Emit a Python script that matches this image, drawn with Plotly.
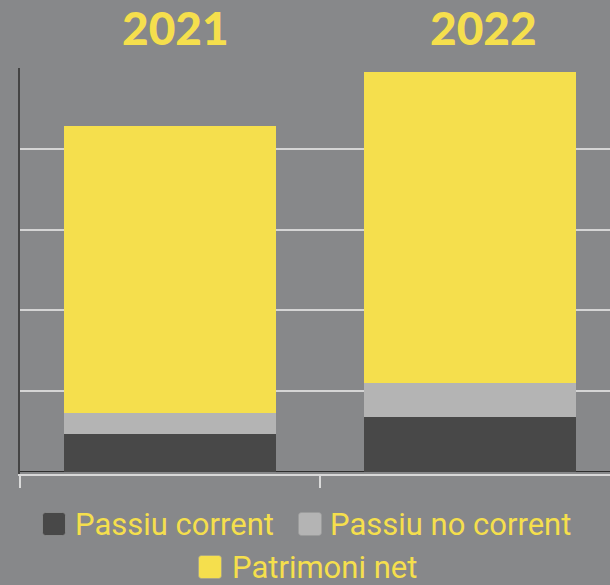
import plotly.graph_objects as go

years = ['2021', '2022']
x_pos = [0, 1]
passiu_corrent = [0.47, 0.68]
passiu_no_corrent = [0.26, 0.42]
patrimoni_net = [3.55, 3.85]

series_names = ['Passiu corrent', 'Passiu no corrent', 'Patrimoni net']
series_colors = ['#484848', '#b4b4b4', '#f5df4d']

bg = '#87888a'
yellow = '#f5df4d'

W, H = 610, 585
L, R, T, B = 20, 0, 68, 111
pw, ph = W - L - R, H - T - B


def px(xp):
    return (xp - L) / pw


def py(yp):
    return (H - B - yp) / ph


fig = go.Figure()
for name, vals, col in zip(series_names, [passiu_corrent, passiu_no_corrent, patrimoni_net], series_colors):
    fig.add_trace(go.Bar(x=x_pos, y=vals, name=name, marker=dict(color=col, line=dict(width=0)),
                         width=0.705, showlegend=False))

# year headings
year_centres = [175, 483.5]
for yr, xc in zip(years, year_centres):
    fig.add_annotation(text=yr, x=px(xc), y=py(27.5), xref='paper', yref='paper',
                       xanchor='center', yanchor='middle', showarrow=False,
                       font=dict(family='Lato', size=46, color=yellow, weight=900))

# hand-made legend (bigger swatches than plotly's own)
swatch_centres = [(54, 524), (310, 524), (210, 567)]
text_left = [73, 328, 230]
r = 3
h = 11.5
rounded = (f'M{-h + r},{-h} L{h - r},{-h} Q{h},{-h} {h},{-h + r} L{h},{h - r} Q{h},{h} {h - r},{h} '
           f'L{-h + r},{h} Q{-h},{h} {-h},{h - r} L{-h},{-h + r} Q{-h},{-h} {-h + r},{-h} Z')
for name, col, (sx, sy), tx in zip(series_names, series_colors, swatch_centres, text_left):
    fig.add_shape(type='path', path=rounded, xref='paper', yref='paper',
                  xsizemode='pixel', ysizemode='pixel', xanchor=px(sx), yanchor=py(sy),
                  fillcolor=col, line=dict(color='#9a9a9a', width=0.6))
    fig.add_annotation(text=name, x=px(tx), y=py(sy), xref='paper', yref='paper',
                       xanchor='left', yanchor='middle', showarrow=False,
                       font=dict(family='Roboto', size=31, color=yellow))

fig.update_layout(
    width=W, height=H,
    margin=dict(l=L, r=R, t=T, b=B),
    paper_bgcolor=bg, plot_bgcolor=bg,
    barmode='stack', bargap=0,
    xaxis=dict(range=[-0.5, 1.4667], tickvals=[-0.5, 0.5], showticklabels=False,
               ticks='outside', ticklen=12, tickwidth=2, tickcolor='#d9d9d9',
               showline=True, linecolor='#d9d9d9', linewidth=2, showgrid=False, zeroline=False),
    yaxis=dict(range=[-0.025, 5], dtick=1, showticklabels=False, ticks='',
               showgrid=True, gridcolor='#d5d5d5', gridwidth=2,
               zeroline=True, zerolinecolor='#2e2e2e', zerolinewidth=1,
               showline=True, linecolor='#444444', linewidth=2),
)

# page body has an 8px default margin, drop it so the chart fills the window
fig.write_html("out.html", config={'displayModeBar': False},
               post_script="document.body.style.margin='0px';")
